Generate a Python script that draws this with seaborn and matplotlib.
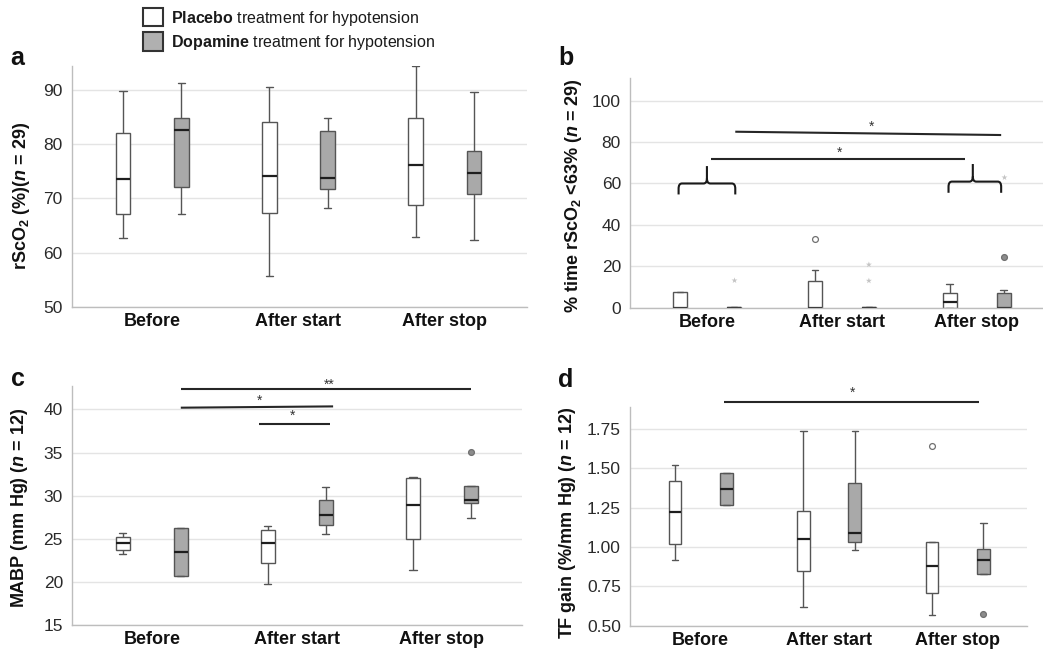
import numpy as np
import pandas as pd
import matplotlib
matplotlib.use("Agg")
import matplotlib.pyplot as plt
from matplotlib.patches import Patch, PathPatch
from matplotlib.path import Path
from matplotlib.ticker import FormatStrFormatter
import seaborn as sns

# ---------------- data (five-number summaries: min, q1, median, q3, max) ----------------
categories = ["Before", "After start", "After stop"]
groups = ["Placebo", "Dopamine"]

a_placebo = [[62.7, 67.2, 73.6, 82.0, 89.8], [55.6, 67.3, 74.2, 84.1, 90.6], [62.9, 68.7, 76.1, 84.9, 94.4]]
a_dopamine = [[67.1, 72.1, 82.6, 84.9, 91.3], [68.3, 71.7, 73.8, 82.5, 84.9], [62.4, 70.9, 74.7, 78.7, 89.7]]

b_placebo = [[0, 0, 0, 7.4, 7.4], [0, 0, 0, 13.0, 18.4], [0, 0, 2.6, 7.1, 11.3]]
b_dopamine = [[0, 0, 0, 0.4, 0.4], [0, 0, 0, 0.3, 0.3], [0, 0, 0, 6.9, 8.5]]
b_outlier_cat = ["After start", "After stop"]
b_outlier_grp = ["Placebo", "Dopamine"]
b_outlier_val = [33.0, 24.6]
b_extreme_cat = ["Before", "After start", "After start", "After stop"]
b_extreme_grp = ["Dopamine", "Dopamine", "Dopamine", "Dopamine"]
b_extreme_val = [13.4, 20.8, 13.0, 63.0]

c_placebo = [[23.2, 23.7, 24.5, 25.2, 25.7], [19.8, 22.2, 24.5, 26.05, 26.5], [21.4, 25.0, 28.95, 32.0, 32.15]]
c_dopamine = [[20.7, 20.7, 23.5, 26.2, 26.2], [25.6, 26.6, 27.7, 29.5, 31.0], [27.4, 29.2, 29.45, 31.15, 31.15]]
c_outlier_cat = ["After stop"]
c_outlier_grp = ["Dopamine"]
c_outlier_val = [35.1]

d_placebo = [[0.92, 1.02, 1.22, 1.42, 1.52], [0.62, 0.85, 1.05, 1.23, 1.74], [0.57, 0.71, 0.88, 1.03, 1.03]]
d_dopamine = [[1.27, 1.27, 1.37, 1.47, 1.47], [0.98, 1.03, 1.09, 1.41, 1.735], [0.83, 0.83, 0.92, 0.985, 1.15]]
d_outlier_cat = ["After stop", "After stop"]
d_outlier_grp = ["Placebo", "Dopamine"]
d_outlier_val = [1.64, 0.576]

ylabels = [
    r"rScO$_\mathbf{2}$ (%)($\mathbfit{n}$ = 29)",
    r"% time rScO$_\mathbf{2}$ <63% ($\mathbfit{n}$ = 29)",
    r"MABP (mm Hg) ($\mathbfit{n}$ = 12)",
    r"TF gain (%/mm Hg) ($\mathbfit{n}$ = 12)",
]
panel_letters = ["a", "b", "c", "d"]
yticks_list = [[50, 60, 70, 80, 90], [0, 20, 40, 60, 80, 100], [15, 20, 25, 30, 35, 40],
               [0.50, 0.75, 1.00, 1.25, 1.50, 1.75]]
ylims = [(50, 94.5), (0, 110.8), (15, 42.75), (0.5, 1.892)]

# ---------------- style ----------------
sns.set_theme(style="white")
plt.rcParams["font.family"] = ["Liberation Sans", "DejaVu Sans"]
plt.rcParams["mathtext.fontset"] = "custom"
plt.rcParams["mathtext.rm"] = "Liberation Sans"
plt.rcParams["mathtext.it"] = "Liberation Sans:italic"
plt.rcParams["mathtext.bf"] = "Liberation Sans:bold"
plt.rcParams["mathtext.bfit"] = "Liberation Sans:italic:bold"

W, H = 1043, 655
fig = plt.figure(figsize=(W / 100, H / 100), dpi=100)

# axes boxes in pixel units: left, right, top, bottom
boxes_px = [(71.7, 526.7, 65.7, 306.7), (630, 1043, 78.3, 307.7),
            (72, 521.7, 385.7, 625), (630, 1027, 406.7, 625.7)]
xlims = [(-0.55, 2.56), (-0.57, 2.49), (-0.55, 2.55), (-0.55, 2.54)]
ylabel_off_px = [50, 56, 52, 62]
ylabel_ypos = [0.46, 0.49, 0.49, 0.47]
letter_pos = [(10, 65), (558, 65), (11, 386), (558, 387)]

palette = {"Placebo": "white", "Dopamine": "#a9a9a9"}
GRID = "#e4e4e4"
SPINE = "#bdbdbd"


def long_df(plac, dopa):
    rows = []
    for ci, cat in enumerate(categories):
        for v in plac[ci]:
            rows.append((cat, "Placebo", v))
        for v in dopa[ci]:
            rows.append((cat, "Dopamine", v))
    return pd.DataFrame(rows, columns=["phase", "group", "value"])


def points_df(cats, grps, vals):
    return pd.DataFrame({"phase": cats, "group": grps, "value": vals})


def draw_panel(i, plac, dopa):
    l, r, t, b = boxes_px[i]
    ax = fig.add_axes([l / W, 1 - b / H, (r - l) / W, (b - t) / H])
    df = long_df(plac, dopa)
    sns.boxplot(data=df, x="phase", y="value", hue="group", order=categories,
                hue_order=groups, palette=palette, saturation=1, whis=np.inf,
                showfliers=False, width=0.8, gap=0.75, linecolor="#555555",
                linewidth=1.0, medianprops=dict(color="#1e1e1e", linewidth=1.6),
                legend=False, ax=ax)
    return ax


def style_panel(i, ax):
    l, r, t, b = boxes_px[i]
    ax.set_xlim(*xlims[i])
    ax.set_ylim(*ylims[i])
    ax.set_yticks(yticks_list[i])
    if i == 3:
        ax.yaxis.set_major_formatter(FormatStrFormatter("%.2f"))
    ax.grid(axis="y", color=GRID, linewidth=1.0)
    ax.grid(axis="x", visible=False)
    ax.set_axisbelow(True)
    for s in ["top", "right"]:
        ax.spines[s].set_visible(False)
    for s in ["left", "bottom"]:
        ax.spines[s].set_color(SPINE)
        ax.spines[s].set_linewidth(1.0)
    ax.tick_params(axis="y", length=0, pad=6.5, labelsize=12.5, labelcolor="#2a2a2a")
    ax.tick_params(axis="x", length=0, pad=4.5, labelsize=13)
    for lab in ax.get_xticklabels():
        lab.set_fontweight("bold")
        lab.set_color("#111111")
    ax.set_xlabel("")
    ax.set_ylabel(ylabels[i], fontsize=13, fontweight="bold", color="#111111")
    ax.yaxis.label.set_va("center")
    ax.yaxis.set_label_coords(-ylabel_off_px[i] / (r - l), ylabel_ypos[i])
    lx, ly = letter_pos[i]
    fig.text(lx / W, 1 - ly / H, panel_letters[i], fontsize=18, fontweight="bold",
             va="baseline", ha="left", color="#111111")


def draw_outliers(ax, cats, grps, vals):
    df = points_df(cats, grps, vals)
    sns.stripplot(data=df, x="phase", y="value", hue="group", order=categories,
                  hue_order=groups, dodge=True, jitter=False,
                  palette={"Placebo": "white", "Dopamine": "#8c8c8c"},
                  size=4.2, linewidth=0.9, edgecolor="#707070",
                  legend=False, ax=ax, zorder=5)


def draw_extremes(ax, cats, grps, vals):
    df = points_df(cats, grps, vals)
    sns.stripplot(data=df, x="phase", y="value", hue="group", order=categories,
                  hue_order=groups, dodge=True, jitter=False, marker="*",
                  palette={"Placebo": "#c4c4c4", "Dopamine": "#c4c4c4"},
                  size=4.5, linewidth=0, legend=False, ax=ax, zorder=5)


def sig_line(ax, x0, x1, y0, y1=None, star=None, sx=None, sy=None):
    if y1 is None:
        y1 = y0
    ax.plot([x0, x1], [y0, y1], color="#262626", lw=1.5, clip_on=False,
            solid_capstyle="butt")
    if star:
        ax.text(sx, sy, star, ha="center", va="center", fontsize=10,
                color="#333333", clip_on=False)


def brace(ax, x0, x1, xm, yb, yh, ypk, rx, ry):
    verts = [(x0, yb), (x0, yh - ry), (x0, yh), (x0 + rx, yh),
             (xm - rx, yh), (xm, yh), (xm, yh + ry), (xm, ypk),
             (xm, yh + ry), (xm, yh), (xm + rx, yh),
             (x1 - rx, yh), (x1, yh), (x1, yh - ry), (x1, yb)]
    codes = [Path.MOVETO, Path.LINETO, Path.CURVE3, Path.CURVE3,
             Path.LINETO, Path.CURVE3, Path.CURVE3, Path.LINETO,
             Path.MOVETO, Path.CURVE3, Path.CURVE3,
             Path.LINETO, Path.CURVE3, Path.CURVE3, Path.LINETO]
    ax.add_patch(PathPatch(Path(verts, codes), facecolor="none",
                           edgecolor="#1a1a1a", lw=1.5, clip_on=False))


# ---------------- panels ----------------
ax_a = draw_panel(0, a_placebo, a_dopamine)
style_panel(0, ax_a)

ax_b = draw_panel(1, b_placebo, b_dopamine)
draw_outliers(ax_b, b_outlier_cat, b_outlier_grp, b_outlier_val)
draw_extremes(ax_b, b_extreme_cat, b_extreme_grp, b_extreme_val)
style_panel(1, ax_b)
sig_line(ax_b, 0.21, 2.18, 85.0, 83.4, "*", 1.22, 87.3)
sig_line(ax_b, 0.03, 1.91, 71.8, 71.8, "*", 0.98, 74.6)
brace(ax_b, -0.21, 0.21, 0.0, 54.7, 60.0, 68.4, 0.025, 2.5)
brace(ax_b, 1.79, 2.18, 1.97, 55.5, 60.9, 69.4, 0.025, 2.5)

ax_c = draw_panel(2, c_placebo, c_dopamine)
draw_outliers(ax_c, c_outlier_cat, c_outlier_grp, c_outlier_val)
style_panel(2, ax_c)
sig_line(ax_c, 0.2, 2.2, 42.4, 42.4, "**", 1.22, 42.9)
sig_line(ax_c, 0.2, 1.25, 40.2, 40.35, "*", 0.74, 40.95)
sig_line(ax_c, 0.74, 1.23, 38.34, 38.34, "*", 0.97, 39.25)

ax_d = draw_panel(3, d_placebo, d_dopamine)
draw_outliers(ax_d, d_outlier_cat, d_outlier_grp, d_outlier_val)
style_panel(3, ax_d)
sig_line(ax_d, 0.18, 2.165, 1.924, 1.924, "*", 1.18, 1.98)

# ---------------- legend ----------------
handles = [Patch(facecolor="white", edgecolor="#333333", linewidth=1.5),
           Patch(facecolor="#b0b0b0", edgecolor="#333333", linewidth=1.5)]
labels = [r"$\mathbf{Placebo}$ treatment for hypotension",
          r"$\mathbf{Dopamine}$ treatment for hypotension"]
fig.legend(handles, labels, loc="upper left", bbox_to_anchor=(143 / W, 1 - 8 / H),
           frameon=False, borderpad=0, borderaxespad=0, handlelength=1.25,
           handleheight=1.4, handletextpad=0.5, labelspacing=0.3, fontsize=11.5,
           labelcolor="#1a1a1a")

fig.savefig("out.png", dpi=100)
